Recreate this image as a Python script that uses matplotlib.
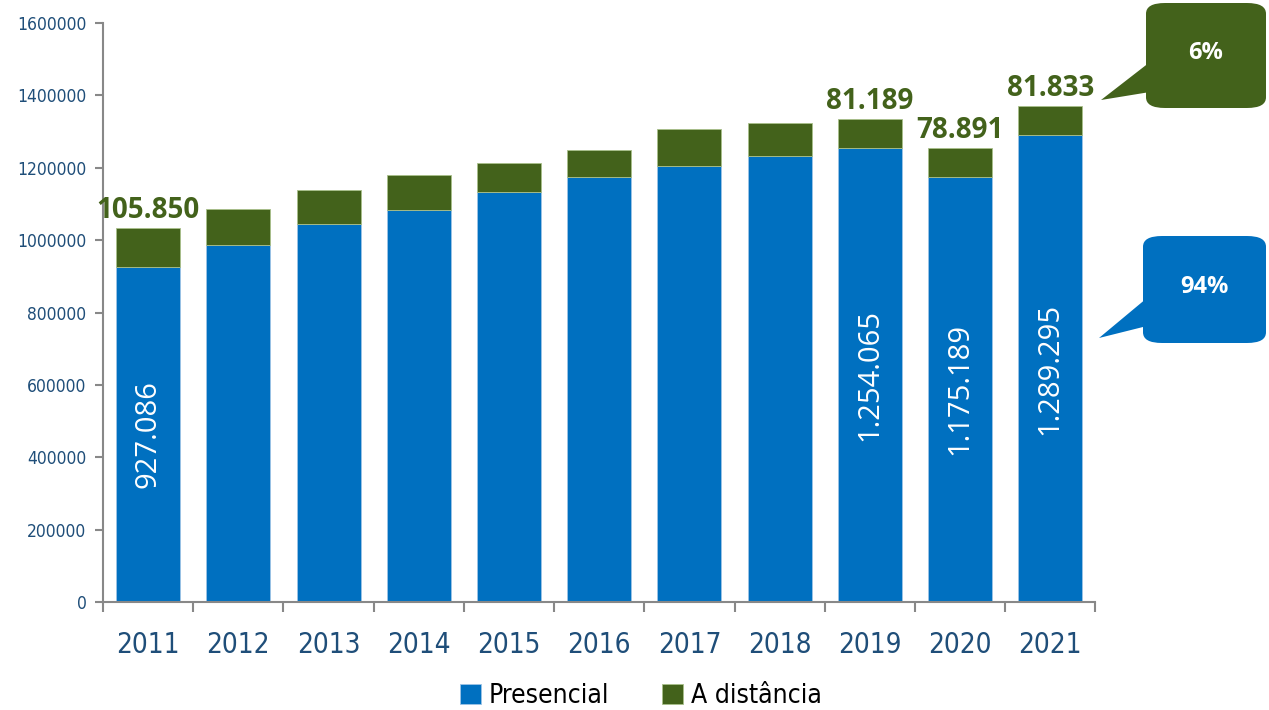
import matplotlib
matplotlib.use("Agg")
import matplotlib.pyplot as plt
from matplotlib.patches import FancyBboxPatch, Polygon
import numpy as np

# dados
anos = ["2011", "2012", "2013", "2014", "2015", "2016", "2017", "2018", "2019", "2020", "2021"]
presencial = [927086, 986500, 1044500, 1083200, 1132900, 1174400, 1204800, 1232400, 1254065, 1175189, 1289295]
distancia = [105850, 99400, 94000, 96700, 80100, 74600, 102000, 91200, 81189, 78891, 81833]
rot_presencial = {0: "927.086", 8: "1.254.065", 9: "1.175.189", 10: "1.289.295"}
rot_distancia = {0: "105.850", 8: "81.189", 9: "78.891", 10: "81.833"}

azul = "#0070C0"
verde = "#43621B"
texto_eixo = "#1F4E79"
narrow = {"family": "DejaVu Sans", "stretch": "condensed"}

fig = plt.figure(figsize=(12.69, 7.1), dpi=100)
ax = fig.add_axes([0.0812, 0.152, 0.782, 0.8156])

x = np.arange(len(anos))
ax.bar(x, presencial, 0.71, color=azul, edgecolor="#9DC3E6", linewidth=0.6, label="Presencial")
ax.bar(x, distancia, 0.71, bottom=presencial, color=verde, edgecolor="#A9C08A", linewidth=0.6, label="A distância")

for i, s in rot_presencial.items():
    ax.text(x[i], presencial[i] / 2, s, rotation=90, ha="center", va="center",
            color="white", fontsize=21, family=["Open Sans", "DejaVu Sans"])
for i, s in rot_distancia.items():
    ax.text(x[i], presencial[i] + distancia[i] + 8000, s, ha="center", va="bottom",
            color=verde, fontsize=20, fontweight="bold", family=["Open Sans", "DejaVu Sans"])

ax.set_xlim(-0.5, len(anos) - 0.5)
ax.set_ylim(0, 1600000)
ax.set_yticks(np.arange(0, 1600001, 200000))
ax.set_yticklabels([str(v) for v in range(0, 1600001, 200000)], fontsize=12.5, color=texto_eixo, **narrow)
ax.set_xticks(x)
ax.set_xticklabels(anos, fontsize=20, color=texto_eixo, **narrow)
ax.set_xticks(np.arange(-0.5, len(anos)), minor=True)
ax.tick_params(axis="x", which="major", length=0, pad=21)
ax.tick_params(axis="x", which="minor", length=7, width=1.5, color="#888888", direction="out")
ax.tick_params(axis="y", length=6, width=1.5, color="#888888", pad=6)
for side in ["top", "right"]:
    ax.spines[side].set_visible(False)
for side in ["left", "bottom"]:
    ax.spines[side].set_color("#888888")
    ax.spines[side].set_linewidth(1.5)

leg = fig.legend(loc="center", bbox_to_anchor=(0.505, 0.02), ncol=2, frameon=False,
                 prop={"family": "DejaVu Sans", "stretch": "condensed", "size": 19},
                 handlelength=0.8, handleheight=0.8, handletextpad=0.3, columnspacing=2.0)

# balões
W, H = 1269.0, 710.0
def balao(x0, y0, x1, y1, ponta, base, cor, txt):
    caixa = FancyBboxPatch((x0 / W, 1 - y1 / H), (x1 - x0) / W, (y1 - y0) / H,
                           boxstyle="round,pad=0,rounding_size=0.015", transform=fig.transFigure,
                           facecolor=cor, edgecolor="none")
    fig.patches.append(caixa)
    tri = Polygon([(base[0][0] / W, 1 - base[0][1] / H), (ponta[0] / W, 1 - ponta[1] / H),
                   (base[1][0] / W, 1 - base[1][1] / H)], closed=True, transform=fig.transFigure,
                  facecolor=cor, edgecolor="none")
    fig.patches.append(tri)
    fig.text((x0 + x1) / 2 / W, 1 - (y0 + y1) / 2 / H + 0.003, txt, ha="center", va="center",
             color="white", fontsize=17, fontweight="bold", family=["Open Sans", "DejaVu Sans"])

balao(1146, 3, 1266, 108, (1101, 100), [(1150, 62), (1150, 92)], verde, "6%")
balao(1143, 236, 1266, 343, (1099, 338), [(1147, 298), (1147, 326)], azul, "94%")

fig.savefig("out.png", dpi=100)
